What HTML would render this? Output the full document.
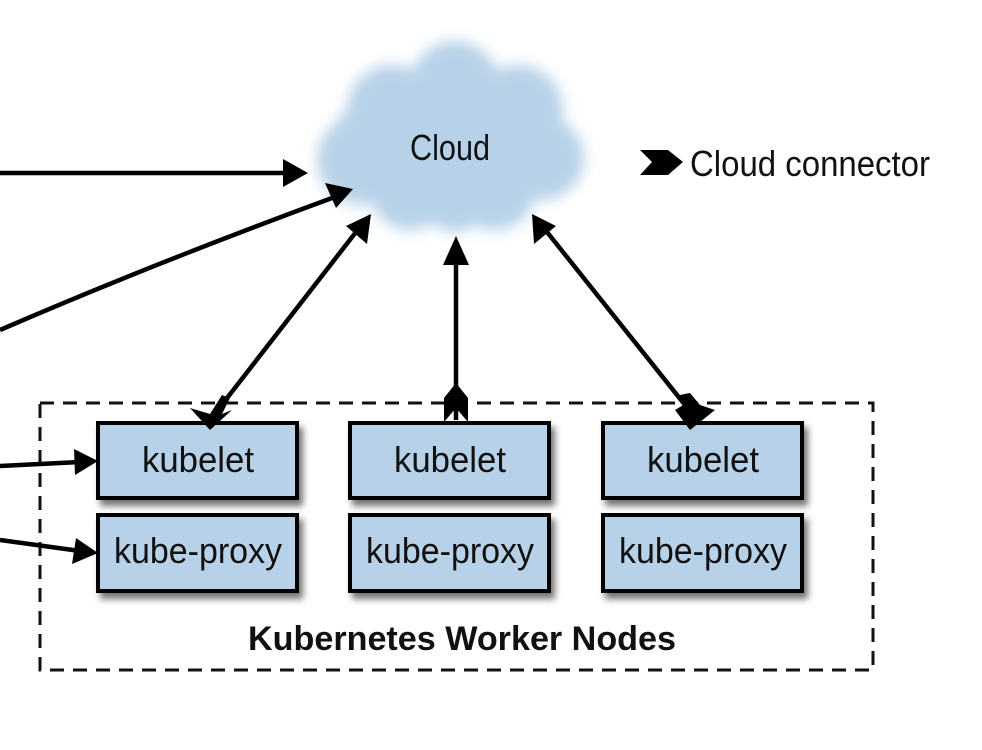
<!DOCTYPE html>
<html><head><meta charset="utf-8"><style>html,body{margin:0;padding:0;background:#fff}svg{display:block}
text{font-family:"Liberation Sans Narrow","Liberation Sans",sans-serif;fill:#111}</style></head>
<body>
<svg width="982" height="750" viewBox="0 0 982 750" xmlns="http://www.w3.org/2000/svg">
<defs>
<filter id="blur" x="-20%" y="-20%" width="140%" height="140%"><feGaussianBlur stdDeviation="7"/></filter>
<filter id="sh" x="-10%" y="-10%" width="130%" height="140%"><feDropShadow dx="4" dy="6" stdDeviation="3.5" flood-color="#000" flood-opacity="0.55"/></filter>
</defs>
<g fill="#b7d2e8" filter="url(#blur)">
<ellipse cx="450" cy="145" rx="120" ry="70"/>
<circle cx="455" cy="85" r="44"/>
<circle cx="392" cy="110" r="45"/>
<circle cx="518" cy="110" r="45"/>
<circle cx="362" cy="160" r="45"/>
<circle cx="542" cy="158" r="42"/>
<circle cx="410" cy="190" r="40"/>
<circle cx="495" cy="190" r="40"/>
<circle cx="455" cy="202" r="30"/>
</g>
<text x="450" y="160" font-size="36" text-anchor="middle" textLength="80" lengthAdjust="spacingAndGlyphs">Cloud</text>
<path d="M640 150 L668 150 L683 162 L668 175 L640 175 L652 162 Z" fill="#000"/>
<text x="690" y="176" font-size="36" textLength="240" lengthAdjust="spacingAndGlyphs">Cloud connector</text>
<rect x="40" y="403" width="833" height="267" fill="none" stroke="#111" stroke-width="3" stroke-dasharray="14,9"/>
<g fill="#b7d2e8" stroke="#000" stroke-width="4" filter="url(#sh)">
<rect x="98" y="423" width="199" height="75"/>
<rect x="98" y="515" width="199" height="76"/>
<rect x="350" y="423" width="199" height="75"/>
<rect x="350" y="515" width="199" height="76"/>
<rect x="603" y="423" width="199" height="75"/>
<rect x="603" y="515" width="199" height="76"/>
</g>
<g font-size="36" text-anchor="middle">
<text x="198" y="472" textLength="112" lengthAdjust="spacingAndGlyphs">kubelet</text>
<text x="450" y="472" textLength="112" lengthAdjust="spacingAndGlyphs">kubelet</text>
<text x="703" y="472" textLength="112" lengthAdjust="spacingAndGlyphs">kubelet</text>
<text x="198" y="563" textLength="168" lengthAdjust="spacingAndGlyphs">kube-proxy</text>
<text x="450" y="563" textLength="168" lengthAdjust="spacingAndGlyphs">kube-proxy</text>
<text x="703" y="563" textLength="168" lengthAdjust="spacingAndGlyphs">kube-proxy</text>
</g>
<text x="462" y="650" font-size="34" font-weight="bold" text-anchor="middle" textLength="428" lengthAdjust="spacingAndGlyphs">Kubernetes Worker Nodes</text>
<g stroke="#000" stroke-width="4.5" fill="none">
<line x1="0" y1="173" x2="290" y2="173"/>
<path d="M0 330 Q150 265 332 198"/>
<line x1="0" y1="466" x2="80" y2="462"/>
<line x1="0" y1="540" x2="80" y2="551"/>
<line x1="210" y1="420" x2="356" y2="232"/>
<line x1="456" y1="420" x2="456" y2="255"/>
<line x1="697" y1="420" x2="547" y2="232"/>
</g>
<g fill="#000">
<polygon points="308,173 283,159 283,187"/>
<polygon points="353,189 325,183 336,208"/>
<polygon points="98,461 74,449 75,475"/>
<polygon points="98,553 76,538 72,564"/>
<polygon points="371,214 346,226 367,244"/>
<polygon points="456,236 443,265 469,265"/>
<polygon points="532,214 534,244 556,226"/>
<polygon points="210,430 190,408 210,414 222,395 230,398 222,414 232,410"/>
<polygon points="444,422 444,398 456,383 468,398 468,422 456,408"/>
<polygon points="690,430 675,410 685,404 680,395 690,393 700,405 715,410"/>
</g>
</svg>
</body></html>
